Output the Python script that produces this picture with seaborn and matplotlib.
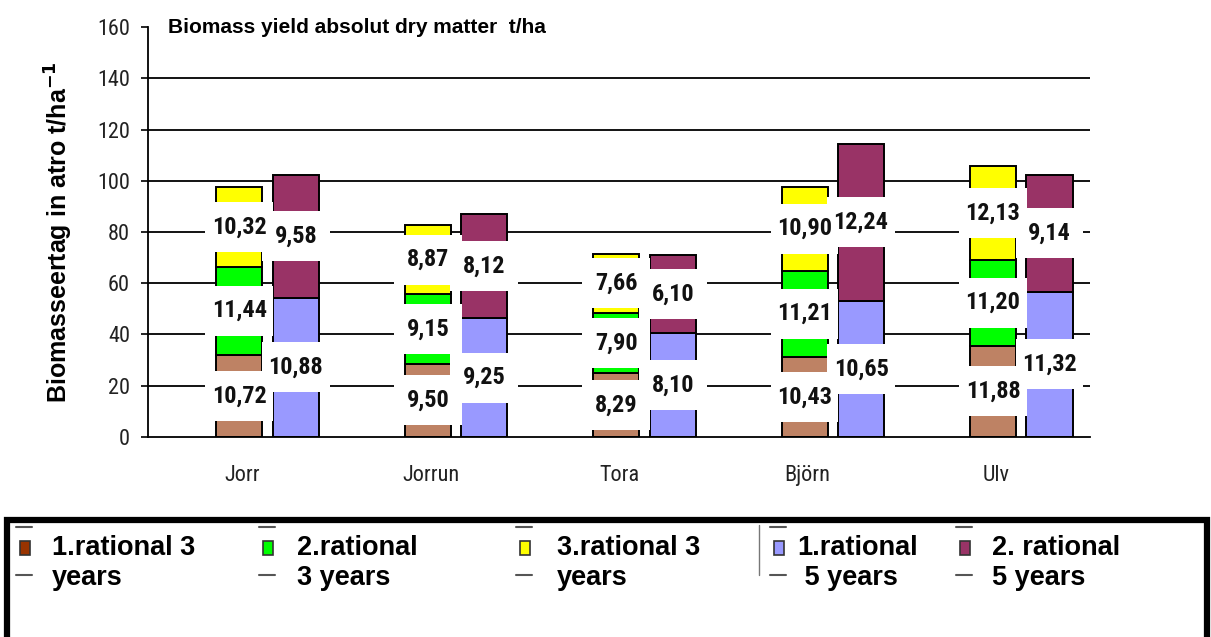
import matplotlib
matplotlib.use('Agg')
import matplotlib.pyplot as plt
import matplotlib.font_manager as fm
from matplotlib.patches import Rectangle
from matplotlib.lines import Line2D
import numpy as np
import seaborn as sns

clones = ['Jorr', 'Jorrun', 'Tora', 'Björn', 'Ulv']
# annual yield (t/ha per year) of each harvest rotation
rot3_1 = [10.72, 9.50, 8.29, 10.43, 11.88]
rot3_2 = [11.44, 9.15, 7.90, 11.21, 11.20]
rot3_3 = [10.32, 8.87, 7.66, 10.90, 12.13]
rot5_1 = [10.88, 9.25, 8.10, 10.65, 11.32]
rot5_2 = [9.58, 8.12, 6.10, 12.24, 9.14]
years3 = 3
years5 = 5
yticks = [0, 20, 40, 60, 80, 100, 120, 140, 160]
legend_labels = ['1.rational 3\nyears', '2.rational\n3 years', '3.rational 3\nyears',
                 '1.rational\n 5 years', '2. rational\n5 years']

bar_colors = ['#BE8264', '#00FF00', '#FFFF00', '#9999FF', '#993366']
legend_colors = ['#993300', '#00FF00', '#FFFF00', '#9999FF', '#993366']

sns.set_style('white')
plt.rcParams['font.family'] = ['Liberation Sans', 'DejaVu Sans']
plt.rcParams['text.color'] = 'black'
plt.rcParams['axes.labelcolor'] = 'black'

# look for a narrow font for the numbers (the original uses Arial Narrow)
fonts = fm.fontManager.ttflist
names = {f.name for f in fonts}
if 'Liberation Sans Narrow' in names:
    narrow = dict(family=['Liberation Sans Narrow', 'DejaVu Sans'])
    val_size, tick_size = 18, 16.5
elif 'Roboto Condensed' in names:
    narrow = dict(family=['Roboto Condensed', 'DejaVu Sans'])
    val_size, tick_size = 17.5, 16
elif any(f.name == 'DejaVu Sans' and f.stretch == 'condensed' for f in fonts):
    narrow = dict(family=['DejaVu Sans'], fontstretch='condensed')
    val_size, tick_size = 14, 13
else:
    narrow = dict(family=['Liberation Sans', 'DejaVu Sans'])
    val_size, tick_size = 14, 13

fig = plt.figure(figsize=(12.11, 6.37), dpi=100)
ax = fig.add_axes([0.1222, 0.314, 0.7779, 0.6436])

# grid lines behind the bars
ax.hlines(yticks[1:-1], -0.5, 4.5, color='black', lw=1.3, zorder=0)

idx = np.arange(len(clones))
stacks = [
    (idx - 0.015, [rot3_1, rot3_2, rot3_3], years3, bar_colors[:3]),
    (idx + 0.285, [rot5_1, rot5_2], years5, bar_colors[3:]),
]
box_w, box_h = 0.36, 19.5
for xpos, series, yrs, cols in stacks:
    bottom = np.zeros(len(clones))
    for vals, col in zip(series, cols):
        h = np.array(vals) * yrs
        sns.barplot(x=xpos, y=h, native_scale=True, orient='x', width=0.245,
                    bottom=bottom, color=col, saturation=1, edgecolor='black',
                    linewidth=1.4, errorbar=None, ax=ax, zorder=2)
        # white label boxes (as in the Excel original) with the annual yield on top
        for xi, b, hi, v in zip(xpos, bottom, h, vals):
            yc = b + hi / 2
            ax.add_patch(Rectangle((xi - box_w / 2, yc - box_h / 2), box_w, box_h,
                                   fc='white', ec='none', zorder=4))
            ax.text(xi, yc, f'{v:.2f}'.replace('.', ','), ha='center', va='center',
                    fontsize=val_size, fontweight='bold', color='#111111', zorder=6, **narrow)
        bottom = bottom + h

ax.set_xlim(-0.5, 4.5)
ax.set_ylim(0, 160)
ax.set_yticks(yticks)
ax.set_yticklabels([str(t) for t in yticks], fontsize=tick_size, color='#222222', **narrow)
ax.set_xticks(idx)
ax.set_xticklabels(clones, fontsize=tick_size, color='#222222', **narrow)
ax.set_xticks(np.arange(-0.5, 5, 1), minor=True)
ax.tick_params(axis='x', which='major', length=0, pad=20)
ax.tick_params(axis='x', which='minor', length=8, width=1.2, color='black', direction='out')
ax.tick_params(axis='y', length=5, width=1.2, color='black', direction='out', pad=8, left=True)
for s in ['top', 'right']:
    ax.spines[s].set_visible(False)
for s in ['left', 'bottom']:
    ax.spines[s].set_color('black')
    ax.spines[s].set_linewidth(1.3)
ax.set_xlabel('')
ax.set_ylabel('Biomasseertag in atro t/ha$^{\\mathbf{-1}}$', fontsize=18, fontweight='bold',
              color='black')
ax.yaxis.set_label_coords(-0.078, 0.5)
ax.text(0.021, 1.0, 'Biomass yield absolut dry matter  t/ha', transform=ax.transAxes,
        ha='left', va='center', fontsize=15, fontweight='bold', color='black')

# legend box at the bottom
W, H = 1211, 637
fig.add_artist(Rectangle((7 / W, -0.05), 1200 / W, 1 - 520 / H + 0.05, fill=False,
                         ec='black', lw=4.5, transform=fig.transFigure, clip_on=False))
marker_x = [20, 263, 520, 774, 960]
text_x = [52, 297, 557, 797, 992]
for mx, tx, col, lab in zip(marker_x, text_x, legend_colors, legend_labels):
    fig.add_artist(Rectangle((mx / W, 1 - 555 / H), 10 / W, 14 / H, fc=col, ec='#333333',
                             lw=1.2, transform=fig.transFigure))
    for yy in (527, 575):
        fig.add_artist(Line2D([(mx - 4) / W, (mx + 12) / W], [1 - yy / H] * 2, color='#555555',
                              lw=1.5, transform=fig.transFigure))
    line1, line2 = lab.split('\n')
    fig.text(tx / W, 1 - 548 / H, line1, ha='left', va='center', fontsize=19.5,
             fontweight='bold', color='black')
    fig.text(tx / W, 1 - 578 / H, line2, ha='left', va='center', fontsize=19.5,
             fontweight='bold', color='black')
fig.add_artist(Line2D([759 / W] * 2, [1 - 525 / H, 1 - 575 / H], color='#777777', lw=1,
                      transform=fig.transFigure))

fig.savefig('out.png', dpi=100)
